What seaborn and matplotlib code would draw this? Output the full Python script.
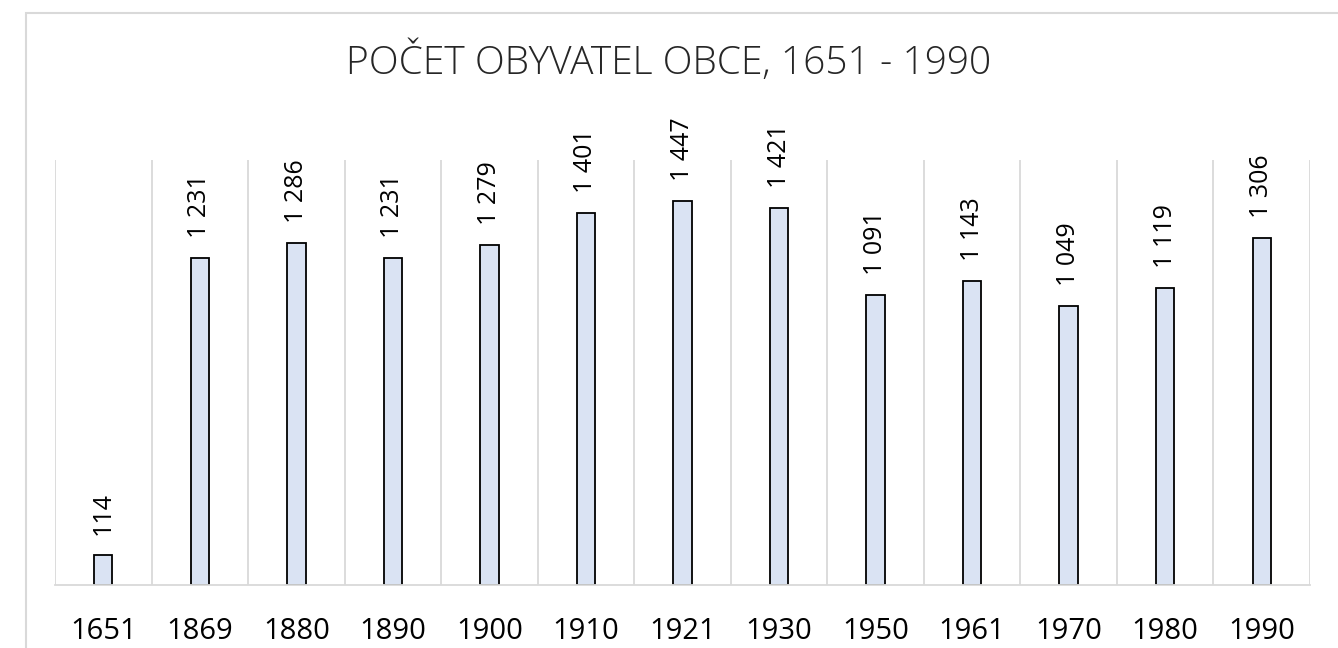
import numpy as np
import pandas as pd
import seaborn as sns
import matplotlib.pyplot as plt
from matplotlib.patches import Rectangle

# data
years = ["1651", "1869", "1880", "1890", "1900", "1910", "1921",
         "1930", "1950", "1961", "1970", "1980", "1990"]
population = [114, 1231, 1286, 1231, 1279, 1401, 1447,
              1421, 1091, 1143, 1049, 1119, 1306]
title = "POČET OBYVATEL OBCE, 1651 - 1990"

df = pd.DataFrame({"rok": years, "obyvatel": population})

sns.set_style("white")
plt.rcParams['font.family'] = ['Open Sans', 'DejaVu Sans']

fig = plt.figure(figsize=(13.38, 6.48), dpi=100)
ax = fig.add_axes([55 / 1338, 1 - 585 / 648, 1255 / 1338, 425 / 648])

# light frame around the chart area
fig.patches.append(Rectangle((26 / 1338, -0.1), 1.2, 1 - 13 / 648 + 0.1,
                             transform=fig.transFigure, fill=False,
                             edgecolor="#d9d9d9", linewidth=1.5))

sns.barplot(data=df, x="rok", y="obyvatel", ax=ax, color="#dae3f3",
            saturation=1, width=0.19, edgecolor="black", linewidth=1.3)

ax.set_ylim(0, 1600)
ax.set_xlim(-0.5, len(years) - 0.5)

# vertical gridlines between categories
ax.set_xticks(np.arange(-0.5, len(years)), minor=True)
ax.grid(which="minor", axis="x", color="#d9d9d9", linewidth=1.3)
ax.set_axisbelow(True)
ax.tick_params(which="both", length=0)

for s in ["top", "left", "right"]:
    ax.spines[s].set_visible(False)
ax.spines["bottom"].set_color("#d9d9d9")
ax.spines["bottom"].set_linewidth(1.3)

ax.set_yticks([])
ax.set_xlabel("")
ax.set_ylabel("")
ax.tick_params(axis="x", labelsize=21, pad=23, colors="black")

for i, v in enumerate(population):
    ax.text(i, v + 75, f"{v:,}".replace(",", " "), rotation=90,
            ha="center", va="bottom", fontsize=18, color="black")

fig.text(0.5, 1 - 62 / 648, title, ha="center", va="center",
         fontsize=28, fontweight="light", color="#262626")

fig.savefig("out.png", dpi=100)
